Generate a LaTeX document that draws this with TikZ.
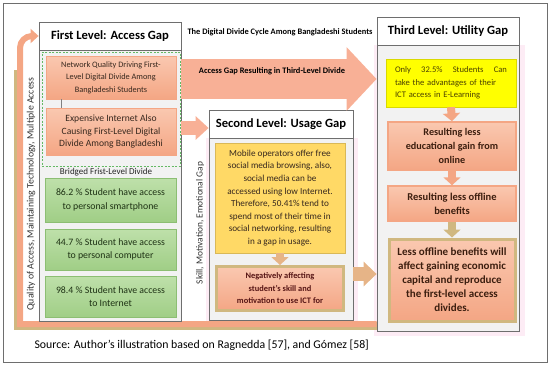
\documentclass[tikz,border=0pt]{standalone}
\usepackage{fontspec}
\setmainfont{Carlito}
\usepackage{tikz}
\usetikzlibrary{
    arrows.meta,
    backgrounds
}

\definecolor{framegray}{RGB}{110,110,110}
\definecolor{bodygray}{RGB}{242,242,242}
\definecolor{salmon}{RGB}{244,166,132}
\definecolor{salmonlight}{RGB}{250,200,176}
\definecolor{arrowpeach}{RGB}{248,176,150}
\definecolor{leafgreen}{RGB}{160,206,134}
\definecolor{leaflight}{RGB}{190,224,170}
\definecolor{leafdark}{RGB}{140,190,115}
\definecolor{gold}{RGB}{255,217,102}
\definecolor{lemon}{RGB}{255,255,0}
\definecolor{gapTan}{RGB}{208,184,128}
\definecolor{tanpeach}{RGB}{230,180,135}
\definecolor{pinkglow}{RGB}{253,236,245}
\definecolor{dashgreen}{RGB}{100,185,100}
\definecolor{causetext}{RGB}{55,40,30}
\definecolor{greentext}{RGB}{30,50,20}
\definecolor{effecttext}{RGB}{60,30,15}
\definecolor{usagetext}{RGB}{85,20,20}
\definecolor{utilitytext}{RGB}{75,65,0}

\begin{document}
\begin{tikzpicture}[x=1pt, y=-1pt,
    levelhead/.style={draw=framegray, line width=0.8pt, fill=white, minimum width=142pt,
        minimum height=28pt, inner sep=0pt, font=\fontsize{12.6}{14}\selectfont\bfseries},
    levelbody/.style={draw=framegray, line width=0.8pt, fill=bodygray, minimum width=142pt, inner sep=0pt},
    causebox/.style={top color=salmonlight, bottom color=salmon, draw=salmon, minimum width=130pt,
        inner sep=0pt, align=center, text=causetext, font=\fontsize{8.3}{12.5}\selectfont},
    statbox/.style={top color=leaflight, bottom color=leafgreen, draw=leafdark, line width=1pt,
        minimum width=131pt, inner sep=0pt, align=center, text=greentext, font=\fontsize{9.8}{13.5}\selectfont},
    effectbox/.style={top color=salmonlight, bottom color=salmon, draw=salmon, line width=1.5pt,
        minimum width=128pt, inner sep=0pt, align=center, text=effecttext, font=\fontsize{10.2}{14}\selectfont\bfseries},
    sidelabel/.style={rotate=90, font=\fontsize{9.8}{10}\selectfont, text=black!80},
    downarrow/.style={draw=#1, line width=8pt, -{Triangle[length=8pt, width=17pt]}}
]
\useasboundingbox (0,0) rectangle (550,365);

% Frame
\draw[framegray, line width=1pt] (3,3) rectangle (547,362);

% First level
\node[levelhead] (t1) at (110,36) {First Level: Access Gap};
\node[levelbody, minimum height=271pt, anchor=north] (b1) at (t1.south) {};
\node[draw=dashgreen, dashed, dash pattern=on 2pt off 1.5pt, line width=0.8pt,
    minimum width=138pt, minimum height=114pt] (accessgroup) at (111,109) {};
\node[causebox, minimum height=43pt] (a1) at (111,77.5)
    {Network Quality Driving First-\\Level Digital Divide Among\\Bangladeshi Students};
\node[causebox, minimum height=47pt, font=\fontsize{9.6}{12.5}\selectfont] (a2) at (111,131.5)
    {Expensive Internet Also\\Causing First-Level Digital\\Divide Among Bangladeshi};
\draw[gray, line width=0.8pt] ([xshift=16pt]a1.south west) -- ([xshift=16pt]a2.north west);
\node[font=\fontsize{9}{10}\selectfont, text=black!85] (bridged) at (106,172) {Bridged Frist-Level Divide};
\node[statbox, minimum height=44pt] (g1) at (110.5,200) {86.2 \% Student have access\\to personal smartphone};
\node[statbox, minimum height=41pt] (g2) at (110.5,249.5) {44.7 \% Student have access\\to personal computer};
\node[statbox, minimum height=41pt] (g3) at (110.5,296.5) {98.4 \% Student have access\\to Internet};
\node[sidelabel] (accesslabel) at (31,194) {Quality of Access, Maintaining Technology, Multiple Access};

% Second level
\node[levelhead, minimum width=144pt] (t2) at (281,124) {Second Level: Usage Gap};
\node[levelbody, minimum width=144pt, minimum height=182pt, anchor=north] (b2) at (t2.south) {};
\node[fill=gold, draw=gold!85!black, minimum width=130pt, minimum height=110pt, inner sep=0pt,
    align=center, text=causetext, font=\fontsize{9.2}{12.6}\selectfont] (y1) at (280,198)
    {Mobile operators offer free\\social media browsing, also,\\social media can be\\accessed using low Internet.\\
     Therefore, 50.41\% tend to\\spend most of their time in\\social networking, resulting\\in a gap in usage.};
\node[effectbox, draw=gapTan, line width=3pt, minimum width=127pt, minimum height=44pt, text=usagetext,
    font=\fontsize{8.4}{12.5}\selectfont\bfseries] (p1) at (280,288.5)
    {Negatively affecting\\student’s skill and\\motivation to use ICT for};
\draw[downarrow=tanpeach] (y1.south) -- (p1.north);
\node[sidelabel, font=\fontsize{9.4}{10}\selectfont] (usagelabel) at (200,223) {Skill, Motivation, Emotional Gap};

% Third level
\node[levelhead] (t3) at (448,31) {Third Level: Utility Gap};
\node[levelbody, minimum height=286pt, anchor=north] (b3) at (t3.south) {};
\node[fill=lemon, draw=lemon!85!black, minimum height=48pt, inner ysep=0pt, inner xsep=9pt, text width=112pt,
    align=left, text=utilitytext, font=\fontsize{8.6}{12.5}\selectfont] (y3) at (451,83)
    {Only\hfill 32.5\%\hfill Students\hfill Can\\take the advantages of their\\ICT access in E-Learning};
\node[effectbox, minimum height=48pt] (r1) at (452,146) {Resulting less\\educational gain from\\online};
\node[effectbox, minimum height=35pt, font=\fontsize{10.5}{14}\selectfont\bfseries] (r2) at (452,203.5)
    {Resulting less offline\\benefits};
\node[effectbox, draw=gapTan, line width=3pt, minimum width=126pt, minimum height=82pt,
    font=\fontsize{11}{14}\selectfont\bfseries] (r3) at (452,280)
    {Less offline benefits will\\affect gaining economic\\capital and reproduce\\the first-level access\\divides.};
\draw[downarrow=salmon] (y3.south) -- (r1.north);
\draw[downarrow=salmon] (r1.south) -- (r2.north);
\draw[downarrow=gapTan] (r2.south) -- (r3.north);

% Arrows between levels
\draw[arrowpeach, line width=40pt, -{Triangle[length=30pt, width=62pt]}] (b1.east |- 0,79) -- (b3.west |- 0,79);
\node[font=\fontsize{8.4}{9}\selectfont\bfseries] (gaplabel) at (272,71) {Access Gap Resulting in Third-Level Divide};
\draw[arrowpeach, line width=14pt, -{Triangle[length=13pt, width=23pt]}] (b1.east |- 0,128) -- (t2.west |- 0,128);
\draw[tanpeach, line width=14pt, -{Triangle[length=13pt, width=24pt]}] (b2.east |- 0,274) -- (b3.west |- 0,274);

% Cycle back to first level
\begin{scope}[on background layer]
\fill[pinkglow] ([shift={(-3pt,-4pt)}]b2.south west) rectangle ([shift={(5pt,0pt)}]b2.north east);
\fill[pinkglow] ([shift={(-3pt,-4pt)}]b3.south west) rectangle ([shift={(6pt,0pt)}]b3.north east);
\draw[gapTan, line width=8pt] (b3.west |- 0,326) -- (18,326) -- (18,70);
\draw[salmon, line width=6pt, -{Triangle[length=8pt, width=14pt]}]
    (b3.west |- 0,324) -- (20,324) -- (20,60) [rounded corners=12pt] -- (20,36) -- (t1.west);
\end{scope}

% Title and source
\node[font=\fontsize{8.4}{9}\selectfont\bfseries] (title) at (280,32) {The Digital Divide Cycle Among Bangladeshi Students};
\node[anchor=west, font=\fontsize{11.8}{13}\selectfont] (source) at (31,345)
    {Source: Author’s illustration based on Ragnedda [57], and Gómez [58]};

\end{tikzpicture}
\end{document}
